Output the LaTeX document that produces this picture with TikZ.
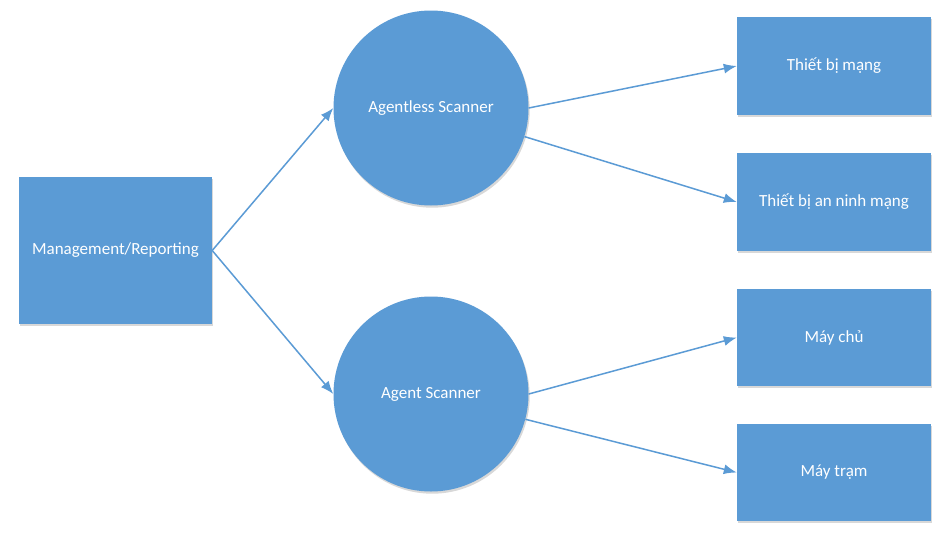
\documentclass[tikz,border=0pt]{standalone}
\usepackage{fontspec}
\setmainfont{Carlito}
\usetikzlibrary{arrows.meta,shadows}
\definecolor{ofblue}{RGB}{91,155,213}
\tikzset{
  shade/.style={drop shadow={shadow xshift=1.2pt,shadow yshift=-2.2pt,opacity=0.25,fill=black!60}},
  boxnode/.style={rectangle,fill=ofblue,inner sep=0pt,text=white,font=\fontsize{17}{20}\selectfont,shade},
  circnode/.style={circle,fill=ofblue,inner sep=0pt,minimum size=195pt,text=white,font=\fontsize{17}{20}\selectfont,shade},
  arr/.style={draw=ofblue,line width=1.5pt,-{Latex[length=13pt,width=10pt]}}
}
\begin{document}
\begin{tikzpicture}[x=1pt,y=-1pt]
\useasboundingbox[fill=white] (0,0) rectangle (952,538);
\node[boxnode,minimum width=193pt,minimum height=147pt] (m) at (115.5,250.5) {Management/Reporting};
\node[circnode] (s1) at (431,108) {Agentless Scanner};
\node[circnode] (s2) at (431,394) {Agent Scanner};
\node[boxnode,minimum width=194pt,minimum height=98pt] (b1) at (834,66) {Thiết bị mạng};
\node[boxnode,minimum width=194pt,minimum height=98pt] (b2) at (834,202) {Thiết bị an ninh mạng};
\node[boxnode,minimum width=194pt,minimum height=97pt] (b3) at (834,337.5) {Máy chủ};
\node[boxnode,minimum width=194pt,minimum height=97pt] (b4) at (834,472.5) {Máy trạm};
\draw[arr] (m.east) -- (s1.west);
\draw[arr] (m.east) -- (s2.west);
\draw[arr] (s1.east) -- (b1.west);
\draw[arr] (s1.-17) -- (b2.west);
\draw[arr] (s2.east) -- (b3.west);
\draw[arr] (s2.-15) -- (b4.west);
\end{tikzpicture}
\end{document}
